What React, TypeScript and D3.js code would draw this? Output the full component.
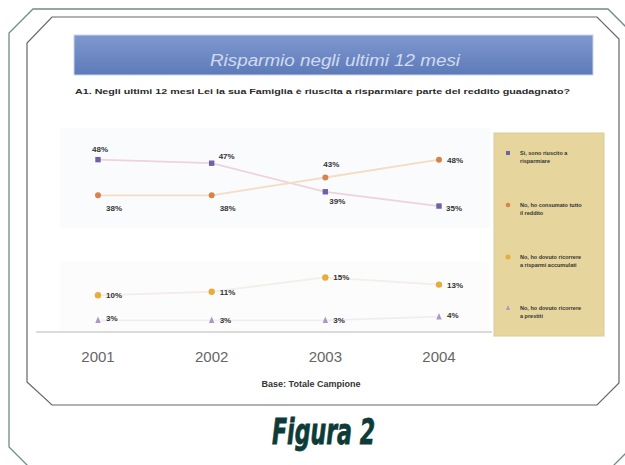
import React from "react";
import * as d3 from "d3";

const years = ["2001", "2002", "2003", "2004"];
const seriesNames = [
  ["Sì, sono riuscito a", "risparmiare"],
  ["No, ho consumato tutto", "il reddito"],
  ["No, ho dovuto ricorrere", "a risparmi accumulati"],
  ["No, ho dovuto ricorrere", "a prestiti"],
];
const saved = [48, 47, 39, 35];
const consumed = [38, 38, 43, 48];
const usedSavings = [10, 11, 15, 13];
const loans = [3, 3, 3, 4];
const seriesValues = [saved, consumed, usedSavings, loans];
const markerColors = ["#6d62a6", "#d9824a", "#e6ad3c", "#ab95c9"];
const lineColors = ["#edd3da", "#f5dcc4", "#f3eee6", "#f0edf2"];
// label offsets [dx, dy] per series per point
const labelPos = [
  [[-6, -8], [7, -4], [4, 12], [7, 5]],
  [[8, 16], [8, 16], [-2, -10], [8, 3]],
  [[8, 3], [8, 3], [8, 3], [8, 3]],
  [[8, 1], [8, 3], [8, 3], [8, 1]],
];

export default function App() {
  const x = d3.scalePoint<string>().domain(years).range([98, 439]).padding(0);
  const y = d3.scaleLinear().domain([0, 50]).range([331, 152.5]);
  const line = d3
    .line<number>()
    .x((_, i) => x(years[i]) as number)
    .y((d) => y(d));

  const marker = (s: number, cx: number, cy: number, r = 2.7) => {
    const c = markerColors[s];
    if (s === 0) return <rect x={cx - r} y={cy - r} width={2 * r} height={2 * r} fill={c} />;
    if (s === 1) return <circle cx={cx} cy={cy} r={r + 0.3} fill={c} />;
    if (s === 2) return <circle cx={cx} cy={cy} r={r + 0.5} fill={c} />;
    return (
      <path
        d={`M${cx},${cy - r - 1} L${cx + r},${cy + r} L${cx - r},${cy + r} Z`}
        fill={c}
      />
    );
  };

  const legendYs = [153, 205, 257, 308];

  return (
    <svg
      width={625}
      height={465}
      style={{ position: "absolute", left: 0, top: 0, background: "#fff" }}
      fontFamily="Liberation Sans, Arial, sans-serif"
    >
      {/* outer frame */}
      <path
        d="M33,9 L608,9 L634,35 L634,445 L608,471 L33,471 L9,447 L9,33 Z"
        fill="none"
        stroke="#6f8c8a"
        strokeWidth={1.3}
      />
      {/* inner frame */}
      <path
        d="M52,17 L597,17 L619,39 L619,383 L597,405 L52,405 L27,382 L27,43 Z"
        fill="#fff"
        stroke="#666"
        strokeWidth={1.2}
      />
      {/* faint plot backdrop */}
      <rect x={60} y={128} width={430} height={100} fill="#fafbfd" />
      <rect x={60} y={262} width={430} height={70} fill="#fcfcfd" />

      {/* title bar */}
      <defs>
        <linearGradient id="tb" x1="0" y1="0" x2="0" y2="1">
          <stop offset="0" stopColor="#7f98cf" />
          <stop offset="1" stopColor="#5d7bb9" />
        </linearGradient>
      </defs>
      <rect x={74} y={35} width={519} height={40} fill="url(#tb)" stroke="#c9d3ea" strokeWidth={1} />
      <text
        x={335}
        y={66}
        textAnchor="middle"
        fontStyle="italic"
        fontSize={16}
        fill="#d3d9f0"
        textLength={250}
        lengthAdjust="spacingAndGlyphs"
      >
        Risparmio negli ultimi 12 mesi
      </text>
      <text
        x={75}
        y={94}
        fontWeight="bold"
        fontSize={7.5}
        fill="#2a2a2a"
        textLength={495}
        lengthAdjust="spacingAndGlyphs"
      >
        A1. Negli ultimi 12 mesi Lei la sua Famiglia è riuscita a risparmiare parte del reddito guadagnato?
      </text>

      {/* baseline */}
      <line x1={36} x2={492} y1={332} y2={332} stroke="#cfcfcf" strokeWidth={1.5} />

      {/* lines */}
      {seriesValues.map((vals, s) => (
        <path key={"l" + s} d={line(vals) || ""} fill="none" stroke={lineColors[s]} strokeWidth={1.8} />
      ))}
      {/* markers and labels */}
      {seriesValues.map((vals, s) =>
        vals.map((v, i) => {
          const cx = x(years[i]) as number;
          const cy = y(v);
          const [dx, dy] = labelPos[s][i];
          return (
            <g key={`m${s}-${i}`}>
              {marker(s, cx, cy)}
              <text x={cx + dx} y={cy + dy} fontSize={8} fontWeight="bold" fill="#333">
                {v}%
              </text>
            </g>
          );
        })
      )}

      {/* year labels */}
      {years.map((yr) => (
        <text key={yr} x={x(yr) as number} y={362} textAnchor="middle" fontSize={15} fill="#666">
          {yr}
        </text>
      ))}
      <text x={311} y={387} textAnchor="middle" fontSize={9} fontWeight="bold" fill="#333">
        Base: Totale Campione
      </text>

      {/* legend */}
      <rect x={494} y={133} width={110} height={203} fill="#e6d69e" stroke="#d9cc98" />
      {seriesNames.map((nm, s) => (
        <g key={"lg" + s}>
          {marker(s, 508, legendYs[s], 2)}
          <text x={520} y={legendYs[s] + 2} fontSize={5.5} fontWeight="bold" fill="#333">
            {nm[0]}
          </text>
          <text x={520} y={legendYs[s] + 10} fontSize={5.5} fontWeight="bold" fill="#333">
            {nm[1]}
          </text>
        </g>
      ))}

      {/* caption */}
      <text
        x={272}
        y={444}
        fontSize={35}
        fontWeight="bold"
        fontStyle="italic"
        fill="#0d3b37"
        stroke="#0d3b37"
        strokeWidth={0.8}
        fontFamily="DejaVu Sans Condensed, DejaVu Sans, sans-serif"
        textLength={103}
        lengthAdjust="spacingAndGlyphs"
      >
        Figura 2
      </text>
    </svg>
  );
}
